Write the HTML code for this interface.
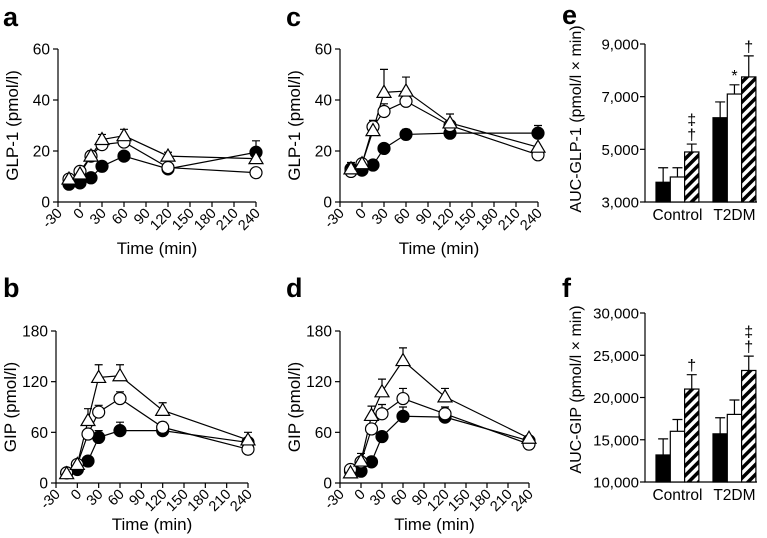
<!DOCTYPE html>
<html><head><meta charset="utf-8"><style>
html,body{margin:0;padding:0;background:#fff}
svg{display:block;font-family:"Liberation Sans",Arial,sans-serif}
</style></head><body>
<svg id="fig" width="767" height="538" viewBox="0 0 767 538" xmlns="http://www.w3.org/2000/svg"></svg>
<script>
const times = [-15, 0, 15, 30, 60, 120, 240];
const xTicks = [-30, 0, 30, 60, 90, 120, 150, 180, 210, 240];
const glpTicks = [0, 20, 40, 60];
const gipTicks = [0, 60, 120, 180];
// panel a
const aFilled = [7, 7.5, 9.5, 14, 18, 13, 19.5];
const aFilledErr = [0, 0, 0, 0, 0, 0, 4.5];
const aOpen = [9, 12, 18, 22.5, 23.5, 13.5, 11.5];
const aOpenErr = [0, 0, 0, 0, 0, 0, 0];
const aTri = [9, 11, 18, 24.5, 26, 18, 17];
const aTriErr = [0, 0, 2, 2, 2.5, 1.5, 0];
// panel c
const cFilled = [13, 12.5, 14.5, 21, 26.5, 27, 27];
const cFilledErr = [0, 0, 0, 0, 2, 0, 3];
const cOpen = [12, 15, 29.5, 35.5, 39.5, 30, 18.5];
const cOpenErr = [0, 0, 0, 3, 0, 0, 0];
const cTri = [13, 15, 28, 43, 43.5, 31, 21.5];
const cTriErr = [2.5, 0, 4, 9, 5.5, 3.5, 0];
// panel b
const bFilled = [12, 16, 26, 54, 62, 62, 48];
const bFilledErr = [0, 0, 0, 8, 10, 0, 0];
const bOpen = [12, 22, 58, 84, 100, 66, 40];
const bOpenErr = [0, 0, 0, 8, 8, 6, 0];
const bTri = [11, 22, 74, 125, 127, 86, 51];
const bTriErr = [0, 0, 14, 15, 13, 9, 9];
// panel d
const dFilled = [14, 14, 25, 55, 79, 78, 50];
const dFilledErr = [0, 0, 0, 0, 11, 0, 0];
const dOpen = [16, 25, 64, 82, 100, 82, 46];
const dOpenErr = [0, 0, 0, 11, 12, 8, 0];
const dTri = [12, 26, 80, 108, 145, 102, 53];
const dTriErr = [0, 9, 11, 15, 15, 10, 0];
// bar panels
const groups = ["Control", "T2DM"];
const eTicks = [3000, 5000, 7000, 9000];
const eTickLabels = ["3,000", "5,000", "7,000", "9,000"];
const eVals = [[3750, 3950, 4900], [6200, 7100, 7750]];
const eErr = [[550, 350, 300], [600, 350, 800]];
const eMarks = [["", "", "‡\n†"], ["", "*", "†"]];
const fTicks = [10000, 15000, 20000, 25000, 30000];
const fTickLabels = ["10,000", "15,000", "20,000", "25,000", "30,000"];
const fVals = [[13200, 16000, 21000], [15700, 18000, 23200]];
const fErr = [[1900, 1400, 1700], [1900, 1700, 1700]];
const fMarks = [["", "", "†"], ["", "", "‡\n†"]];

const svg = document.getElementById('fig');
const NS = "http://www.w3.org/2000/svg";
function mk(tag, attrs, parent) {
  const e = document.createElementNS(NS, tag);
  for (const k in attrs) e.setAttribute(k, attrs[k]);
  (parent || svg).appendChild(e);
  return e;
}
const defs = mk('defs', {});
const pat = mk('pattern', {id: 'hatch', patternUnits: 'userSpaceOnUse', width: 7, height: 7, patternTransform: 'rotate(45)'}, defs);
mk('rect', {x: 0, y: 0, width: 7, height: 7, fill: '#fff'}, pat);
mk('rect', {x: 0, y: 0, width: 3.5, height: 7, fill: '#000'}, pat);

function letter(t, x, y) {
  const e = mk('text', {x: x, y: y, 'font-size': 27, 'font-weight': 'bold'});
  
  
  e.textContent = t;
}

function linePanel(id, P, yTicks, yTitle, series) {
  const g = mk('g', {});
  
  
  const X = v => P.x0 + (v + 30) / 270 * (P.x1 - P.x0);
  const Y = v => P.y0 - v / P.ymax * (P.y0 - P.y1);
  const ax = mk('path', {d: `M${P.x0} ${P.y1}V${P.y0}H${P.x1}`, stroke: '#000', fill: 'none', 'stroke-width': 1.2}, g);
  
  
  yTicks.forEach(t => {
    mk('line', {x1: P.x0 - 5, x2: P.x0, y1: Y(t), y2: Y(t), stroke: '#000', 'stroke-width': 1.2}, g);
    const tx = mk('text', {x: P.x0 - 8, y: Y(t) + 5.5, 'font-size': 15.5, 'text-anchor': 'end'}, g);
    
    
    tx.textContent = t;
  });
  xTicks.forEach(t => {
    mk('line', {x1: X(t), x2: X(t), y1: P.y0, y2: P.y0 + 5, stroke: '#000', 'stroke-width': 1.2}, g);
    const tx = mk('text', {x: 0, y: 0, 'font-size': 14.5, 'text-anchor': 'end', transform: `translate(${X(t) + 5},${P.y0 + 12}) rotate(-45)`}, g);
    
    
    tx.textContent = t;
  });
  const xt = mk('text', {x: (P.x0 + P.x1) / 2, y: P.y0 + P.tOff, 'font-size': 17, 'text-anchor': 'middle'}, g);
  
  
  xt.textContent = 'Time (min)';
  const yt = mk('text', {x: 0, y: 0, 'font-size': 17, 'text-anchor': 'middle', transform: `translate(${P.x0 - 40},${(P.y0 + P.y1) / 2}) rotate(-90)`}, g);
  
  
  yt.textContent = yTitle;
  series.forEach(s => {
    const sg = mk('g', {}, g);
    
    
    s.err.forEach((e, i) => {
      if (e > 0) {
        const xx = X(times[i]), yy = Y(s.vals[i]), ye = Y(s.vals[i] + e);
        mk('path', {d: `M${xx} ${yy}V${ye}M${xx - 4} ${ye}H${xx + 4}`, stroke: '#000', 'stroke-width': 1.2, fill: 'none'}, sg);
      }
    });
    const pts = s.vals.map((v, i) => X(times[i]) + ',' + Y(v)).join(' ');
    const pl = mk('polyline', {points: pts, fill: 'none', stroke: '#000', 'stroke-width': 1.2}, sg);
    
    
  });
  series.forEach(s => {
    s.vals.forEach((v, i) => {
      const xx = X(times[i]), yy = Y(v);
      let m;
      if (s.kind === 'tri') m = mk('polygon', {points: `${xx},${yy - 7} ${xx - 7},${yy + 5} ${xx + 7},${yy + 5}`, fill: '#fff', stroke: '#000', 'stroke-width': 1.2}, g);
      else m = mk('circle', {cx: xx, cy: yy, r: 6, fill: s.kind === 'filled' ? '#000' : '#fff', stroke: '#000', 'stroke-width': 1.2}, g);
      
      
    });
  });
}

function barPanel(id, P, ticks, tickLabels, vals, errs, marks, yTitle) {
  const g = mk('g', {});
  
  
  const Y = v => P.y0 - (v - P.ymin) / (P.ymax - P.ymin) * (P.y0 - P.y1);
  const ax = mk('path', {d: `M${P.x0} ${P.y1}V${P.y0}H${P.x1}`, stroke: '#000', fill: 'none', 'stroke-width': 1.2}, g);
  
  
  ticks.forEach((t, i) => {
    mk('line', {x1: P.x0 - 5, x2: P.x0, y1: Y(t), y2: Y(t), stroke: '#000', 'stroke-width': 1.2}, g);
    const tx = mk('text', {x: P.x0 - 6, y: Y(t) + 5.5, 'font-size': 15, 'text-anchor': 'end'}, g);
    
    
    tx.textContent = tickLabels[i];
  });
  const yt = mk('text', {x: 0, y: 0, 'font-size': 16, 'text-anchor': 'middle', transform: `translate(${P.x0 - 64},${(P.y0 + P.y1) / 2 + P.tShift}) rotate(-90)`}, g);
  
  
  yt.textContent = yTitle;
  const bw = 14.3, gStart = [P.x0 + 11, P.x0 + 68];
  const fills = ['#000', '#fff', 'url(#hatch)'];
  groups.forEach((gn, gi) => {
    vals[gi].forEach((v, bi) => {
      const x = gStart[gi] + bi * bw, yv = Y(v), ye = Y(v + errs[gi][bi]);
      const cx = x + bw / 2;
      mk('path', {d: `M${cx} ${yv}V${ye}M${cx - 5} ${ye}H${cx + 5}`, stroke: '#000', 'stroke-width': 1.2, fill: 'none'}, g);
      const r = mk('rect', {x: x, y: yv, width: bw, height: P.y0 - yv, fill: fills[bi], stroke: '#000', 'stroke-width': 1.2}, g);
      
      
      const mm = marks[gi][bi];
      if (mm) {
        const lines = mm.split('\n');
        lines.forEach((l, li) => {
          const t = mk('text', {x: cx, y: ye - 4 - (lines.length - 1 - li) * 15, 'font-size': 16, 'text-anchor': 'middle'}, g);
          
          
          t.textContent = l;
        });
      }
    });
    const lt = mk('text', {x: gStart[gi] + 1.5 * bw, y: P.y0 + 18, 'font-size': 15.5, 'text-anchor': 'middle'}, g);
    
    
    lt.textContent = gn;
  });
}

letter('a', 3, 26); letter('c', 286, 26); letter('e', 562, 24);
letter('b', 3, 297); letter('d', 286, 297); letter('f', 562, 297);

linePanel('a', {x0: 58, x1: 256, y0: 202, y1: 49, ymax: 60, tOff: 52}, glpTicks, 'GLP-1 (pmol/l)', [
  {kind: 'filled', vals: aFilled, err: aFilledErr},
  {kind: 'open', vals: aOpen, err: aOpenErr},
  {kind: 'tri', vals: aTri, err: aTriErr}]);
linePanel('c', {x0: 340, x1: 538, y0: 202, y1: 49, ymax: 60, tOff: 52}, glpTicks, 'GLP-1 (pmol/l)', [
  {kind: 'filled', vals: cFilled, err: cFilledErr},
  {kind: 'open', vals: cOpen, err: cOpenErr},
  {kind: 'tri', vals: cTri, err: cTriErr}]);
linePanel('b', {x0: 56, x1: 248, y0: 483, y1: 331, ymax: 180, tOff: 47}, gipTicks, 'GIP (pmol/l)', [
  {kind: 'filled', vals: bFilled, err: bFilledErr},
  {kind: 'open', vals: bOpen, err: bOpenErr},
  {kind: 'tri', vals: bTri, err: bTriErr}]);
linePanel('d', {x0: 340, x1: 529, y0: 483, y1: 331, ymax: 180, tOff: 47}, gipTicks, 'GIP (pmol/l)', [
  {kind: 'filled', vals: dFilled, err: dFilledErr},
  {kind: 'open', vals: dOpen, err: dOpenErr},
  {kind: 'tri', vals: dTri, err: dTriErr}]);

barPanel('e', {x0: 645, x1: 757, y0: 202, y1: 44, ymin: 3000, ymax: 9000, tShift: -4}, eTicks, eTickLabels, eVals, eErr, eMarks, 'AUC-GLP-1 (pmol/l × min)');
barPanel('f', {x0: 645, x1: 757, y0: 482, y1: 313, ymin: 10000, ymax: 30000, tShift: -8}, fTicks, fTickLabels, fVals, fErr, fMarks, 'AUC-GIP (pmol/l × min)');
</script>
</body></html>
